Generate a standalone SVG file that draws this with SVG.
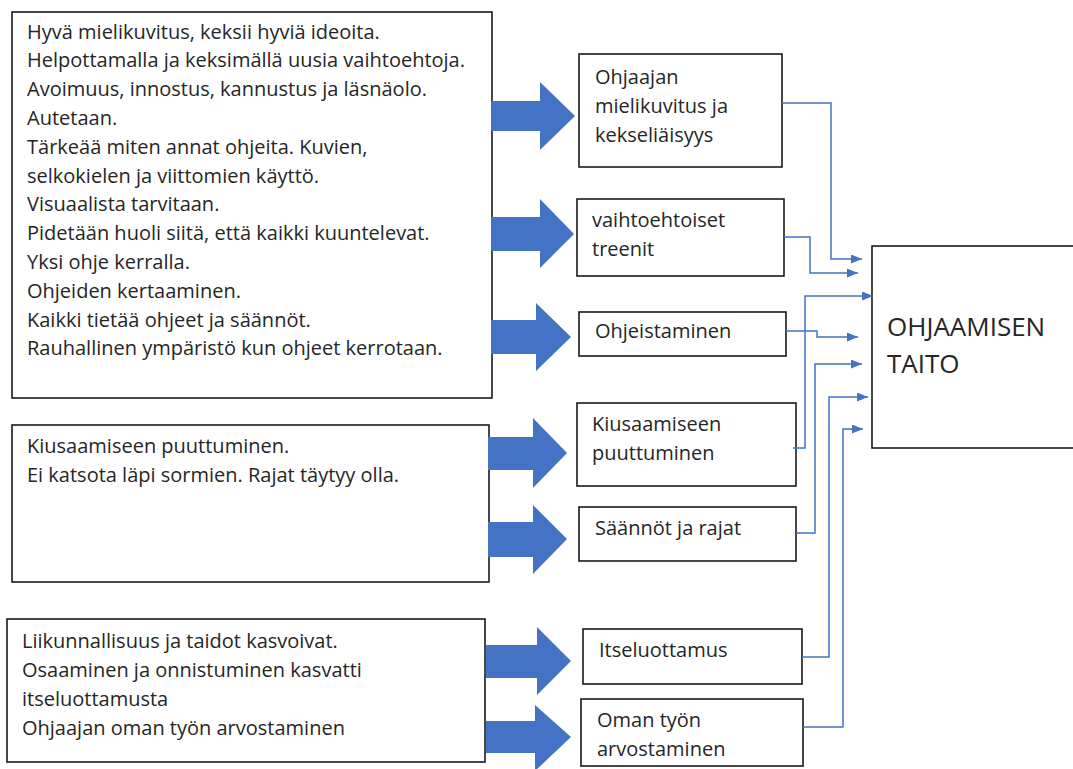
<svg xmlns="http://www.w3.org/2000/svg" width="1073" height="769" viewBox="0 0 1073 769">
<style>
.box{fill:#fff;stroke:#1a1a1a;stroke-width:1.6}
.t{font-family:"Open Sans","Noto Sans","Liberation Sans",sans-serif;font-size:20px;fill:#262626}
.big{font-size:26px}
.ba{fill:#4472C4}
.c{fill:none;stroke:#4472C4;stroke-width:1.5}
</style>
<defs>
<marker id="ah" markerUnits="userSpaceOnUse" markerWidth="11" markerHeight="9" refX="11" refY="4.5" orient="auto">
<path d="M0,0 L11,4.5 L0,9 z" fill="#4472C4"/>
</marker>
</defs>
<rect width="1073" height="769" fill="#fff"/>

<g id="src-top">
<rect class="box" x="12" y="12" width="480" height="386"/>
<text class="t" x="27" y="38.5">Hyvä mielikuvitus, keksii hyviä ideoita.</text>
<text class="t" x="27" y="67.3">Helpottamalla ja keksimällä uusia vaihtoehtoja.</text>
<text class="t" x="27" y="96.1">Avoimuus, innostus, kannustus ja läsnäolo.</text>
<text class="t" x="27" y="124.9">Autetaan.</text>
<text class="t" x="27" y="153.7">Tärkeää miten annat ohjeita. Kuvien,</text>
<text class="t" x="27" y="182.5">selkokielen ja viittomien käyttö.</text>
<text class="t" x="27" y="211.3">Visuaalista tarvitaan.</text>
<text class="t" x="27" y="240.1">Pidetään huoli siitä, että kaikki kuuntelevat.</text>
<text class="t" x="27" y="268.9">Yksi ohje kerralla.</text>
<text class="t" x="27" y="297.7">Ohjeiden kertaaminen.</text>
<text class="t" x="27" y="326.5">Kaikki tietää ohjeet ja säännöt.</text>
<text class="t" x="27" y="355.3">Rauhallinen ympäristö kun ohjeet kerrotaan.</text>
</g>

<g id="src-mid">
<rect class="box" x="12" y="425" width="477" height="157"/>
<text class="t" x="27" y="453">Kiusaamiseen puuttuminen.</text>
<text class="t" x="27" y="482">Ei katsota läpi sormien. Rajat täytyy olla.</text>
</g>

<g id="src-bot">
<rect class="box" x="7" y="619" width="478" height="143"/>
<text class="t" x="22" y="648">Liikunnallisuus ja taidot kasvoivat.</text>
<text class="t" x="22" y="677">Osaaminen ja onnistuminen kasvatti</text>
<text class="t" x="22" y="706">itseluottamusta</text>
<text class="t" x="22" y="735">Ohjaajan oman työn arvostaminen</text>
</g>

<g id="block-arrows">
<path class="ba" d="M491,101 H540 V82 L575,116 L540,150 V131 H491 Z"/>
<path class="ba" d="M491,217 H540 V199 L574,234 L540,268 V251 H491 Z"/>
<path class="ba" d="M491,320 H536 V303 L571,337 L536,371 V354 H491 Z"/>
<path class="ba" d="M488,437 H533 V418 L567,453 L533,488 V470 H488 Z"/>
<path class="ba" d="M488,522 H533 V505 L567,539 L533,574 V557 H488 Z"/>
<path class="ba" d="M486,645 H537 V627 L571,661 L537,695 V678 H486 Z"/>
<path class="ba" d="M486,721 H535 V705 L571,737 L535,771 V753 H486 Z"/>
</g>

<g id="n-ohjaajan">
<rect class="box" x="579" y="54" width="203" height="113"/>
<text class="t" x="595" y="84">Ohjaajan</text>
<text class="t" x="595" y="113">mielikuvitus ja</text>
<text class="t" x="595" y="142">kekseliäisyys</text>
</g>
<g id="n-vaihto">
<rect class="box" x="577" y="199" width="207" height="77"/>
<text class="t" x="592" y="227">vaihtoehtoiset</text>
<text class="t" x="592" y="256">treenit</text>
</g>
<g id="n-ohjeistaminen">
<rect class="box" x="579" y="312" width="207" height="44"/>
<text class="t" x="595" y="338">Ohjeistaminen</text>
</g>
<g id="n-kiusaamiseen">
<rect class="box" x="577" y="403" width="219" height="83"/>
<text class="t" x="592" y="431">Kiusaamiseen</text>
<text class="t" x="592" y="460">puuttuminen</text>
</g>
<g id="n-saannot">
<rect class="box" x="579" y="507" width="217" height="54"/>
<text class="t" x="595" y="535">Säännöt ja rajat</text>
</g>
<g id="n-itseluottamus">
<rect class="box" x="583" y="629" width="219" height="55"/>
<text class="t" x="599" y="657">Itseluottamus</text>
</g>
<g id="n-oman">
<rect class="box" x="581" y="699" width="222" height="67"/>
<text class="t" x="597" y="727">Oman työn</text>
<text class="t" x="597" y="756">arvostaminen</text>
</g>
<g id="n-taito">
<rect class="box" x="872" y="246" width="210" height="202"/>
<text class="t big" x="887" y="336">OHJAAMISEN</text>
<text class="t big" x="887" y="373">TAITO</text>
</g>

<g id="connectors">
<path class="c" marker-end="url(#ah)" d="M782,103 H831 V259 H862"/>
<path class="c" marker-end="url(#ah)" d="M784,237 H810 V273 H858"/>
<path class="c" marker-end="url(#ah)" d="M793,448 H805 V296 H873"/>
<path class="c" marker-end="url(#ah)" d="M786,331 H817 V337 H858"/>
<path class="c" marker-end="url(#ah)" d="M796,533 H815 V364 H862"/>
<path class="c" marker-end="url(#ah)" d="M802,657 H829 V397 H868"/>
<path class="c" marker-end="url(#ah)" d="M803,727 H843 V429 H863"/>
</g>
</svg>
